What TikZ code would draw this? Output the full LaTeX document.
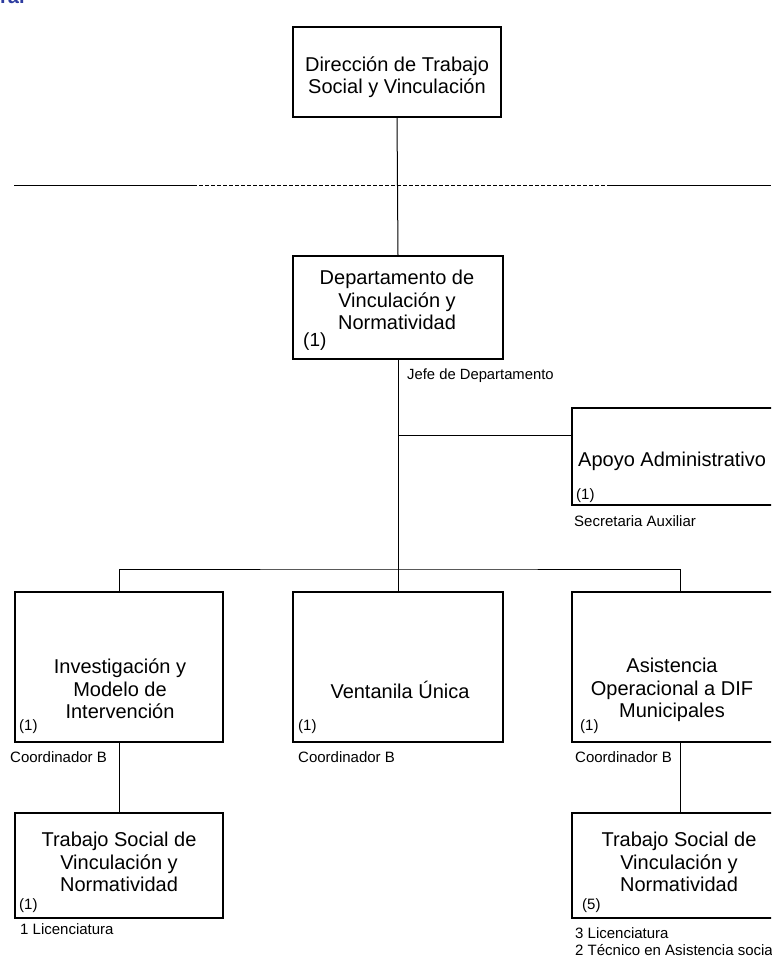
\documentclass[tikz,border=0pt]{standalone}
\usepackage{fontspec}
\setmainfont{Liberation Sans}
\definecolor{titleblue}{RGB}{45,60,160}
\begin{document}
\begin{tikzpicture}[x=1pt,y=-1pt,
  box/.style={draw=black, line width=1.2pt, rectangle, inner sep=0pt},
  big/.style={font=\fontsize{20}{22.5}\selectfont, align=center, inner sep=0pt},
  small/.style={font=\fontsize{15}{18}\selectfont, inner sep=0pt, anchor=west},
  conn/.style={draw=black, line width=1pt}]
\useasboundingbox (0,0) rectangle (771,958);
\clip (0,0) rectangle (771,958);
\fill[white] (0,0) rectangle (771,958);
% clipped title fragment
\begin{scope}
\clip (0,0) rectangle (60,5);
\node[anchor=base west, inner sep=0pt, text=titleblue, font=\bfseries\fontsize{20}{24}\selectfont] (ttl) at (0,4) {ral};
\end{scope}
% boxes
\node[box, minimum width=208pt, minimum height=90pt] (top) at (397,72) {};
\node[box, minimum width=210pt, minimum height=103pt] (dept) at (398,307.5) {};
\node[box, minimum width=218pt, minimum height=97pt] (apo) at (681,456.5) {};
\node[box, minimum width=208pt, minimum height=150pt] (inv) at (119,667) {};
\node[box, minimum width=210pt, minimum height=150pt] (ven) at (398,667) {};
\node[box, minimum width=216pt, minimum height=150pt] (asi) at (680,667) {};
\node[box, minimum width=208pt, minimum height=105pt] (tsl) at (119,865.5) {};
\node[box, minimum width=216pt, minimum height=105pt] (tsr) at (680,865.5) {};
% texts
\node[big] (top-t) at (397,77) {Dirección de Trabajo\\Social y Vinculación};
\node[big] (dept-t) at (397,300) {Departamento de\\Vinculación y\\Normatividad};
\node[inner sep=0pt, anchor=west, font=\fontsize{19}{22}\selectfont] (dept-n) at (303,342) {(1)};
\node[small, font=\fontsize{14.8}{18}\selectfont] (dept-l) at (407,376) {Jefe de Departamento};
\node[big, anchor=west] (apo-t) at (578,461) {Apoyo Administrativo};
\node[small] (apo-n) at (576,496) {(1)};
\node[small] (apo-l) at (574,521) {Secretaria Auxiliar};
\node[big] (inv-t) at (120,689) {Investigación y\\Modelo de\\Intervención};
\node[small] (inv-n) at (19,727) {(1)};
\node[small] (inv-l) at (10,757) {Coordinador B};
\node[big] (ven-t) at (400,690) {Ventanila Única};
\node[small] (ven-n) at (298,727) {(1)};
\node[small] (ven-l) at (298,757) {Coordinador B};
\node[big] (asi-t) at (672,690) {Asistencia\\Operacional a DIF\\Municipales};
\node[small] (asi-n) at (580,727) {(1)};
\node[small] (asi-l) at (575,757) {Coordinador B};
\node[big] (tsl-t) at (119,862) {Trabajo Social de\\Vinculación y\\Normatividad};
\node[small] (tsl-n) at (19,906) {(1)};
\node[small] (tsl-l) at (20,929) {1 Licenciatura};
\node[big] (tsr-t) at (679,862) {Trabajo Social de\\Vinculación y\\Normatividad};
\node[small] (tsr-n) at (582,906) {(5)};
\node[small, align=left, font=\fontsize{15}{17}\selectfont] (tsr-l) at (575,942) {3 Licenciatura\\2 Técnico en Asistencia social};
% separator line
\coordinate (h1) at (14,185);
\coordinate (h2) at (193,185);
\coordinate (h3) at (608,185);
\coordinate (h4) at (771,185);
\draw[conn] (h1) -- (h2);
\draw[conn, dash pattern=on 4pt off 2pt] (h2) -- (h3);
\draw[conn] (h3) -- (h4);
% connectors
\draw[conn] (top.south) -- (dept.north);
\draw[conn] (dept.south) -- (ven.north);
\coordinate (ja) at (398,435);
\draw[conn] (ja) -- (ja -| apo.west);
\coordinate (bar) at (398,569);
\draw[conn] (inv.north) |- (bar) -| (asi.north);
\draw[conn] (inv.south) -- (tsl.north);
\draw[conn] (asi.south) -- (tsr.north);
\end{tikzpicture}
\end{document}
